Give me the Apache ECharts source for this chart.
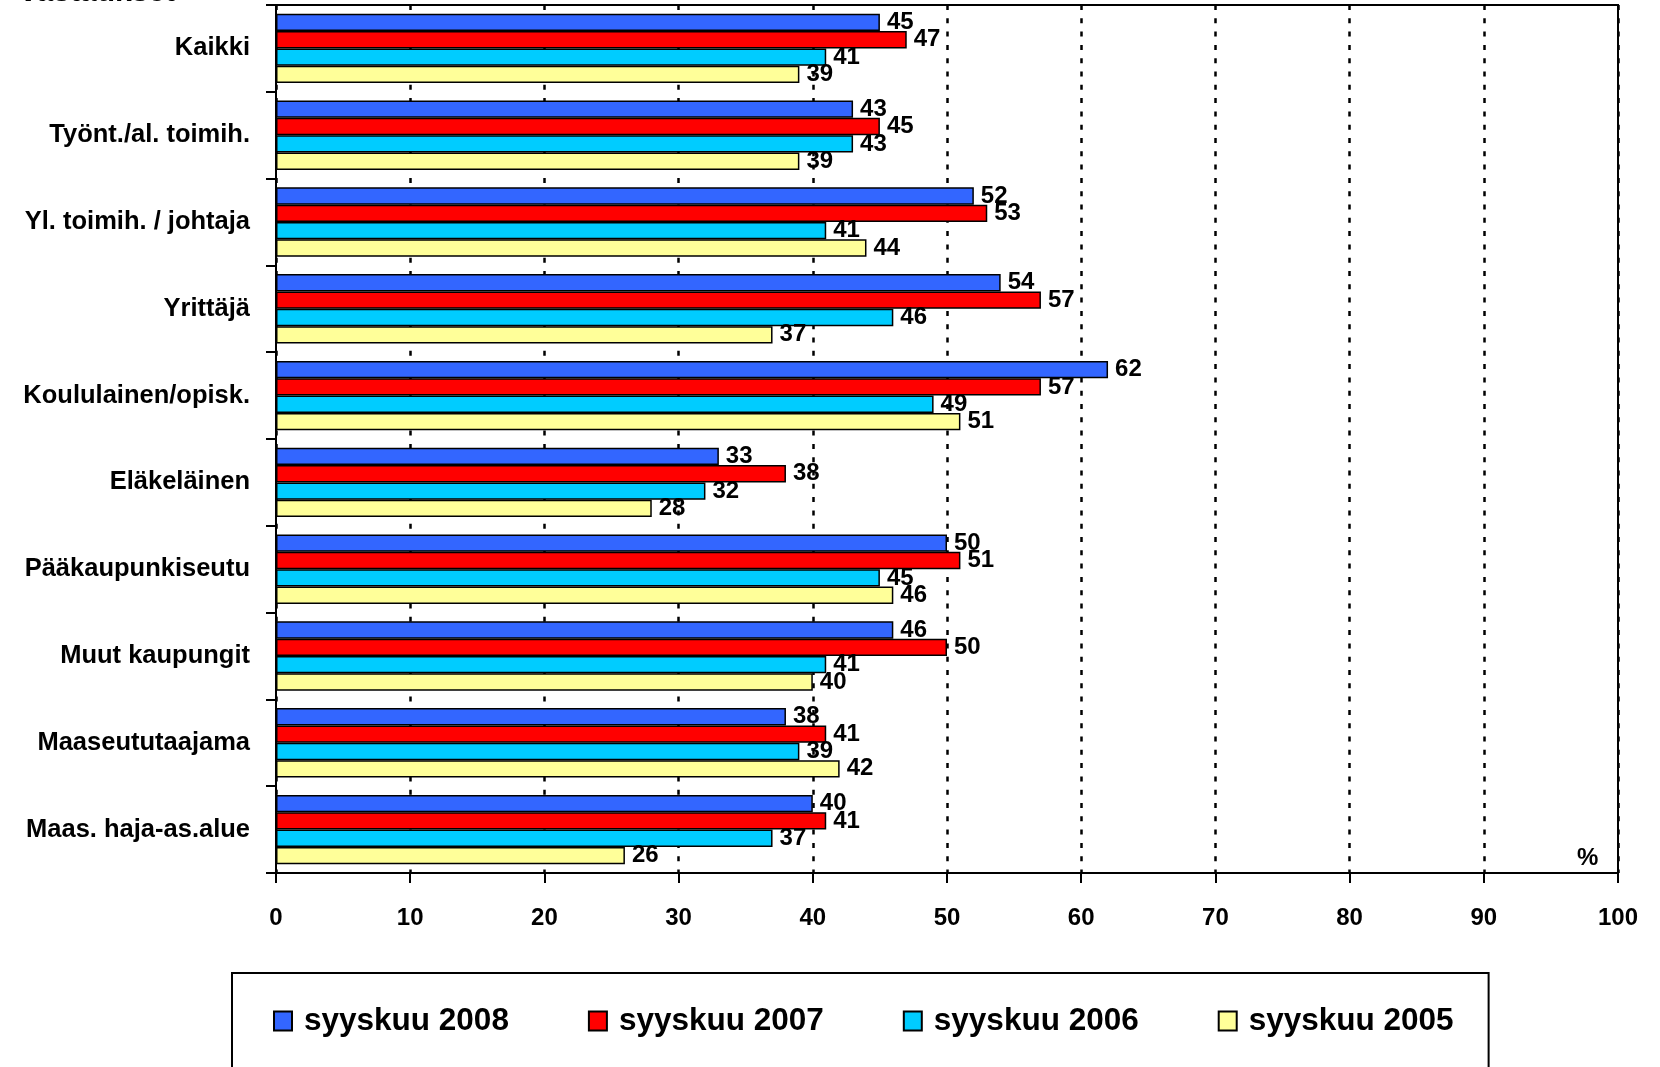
<!DOCTYPE html>
<html>
<head>
<meta charset="utf-8">
<script src="https://cdn.jsdelivr.net/npm/echarts@6/dist/echarts.min.js"></script>
<style>
html,body{margin:0;padding:0;background:#fff;}
#chart{width:1660px;height:1067px;}
</style>
</head>
<body>
<div id="chart"></div>
<script>
const categories = ["Kaikki","Työnt./al. toimih.","Yl. toimih. / johtaja","Yrittäjä","Koululainen/opisk.","Eläkeläinen","Pääkaupunkiseutu","Muut kaupungit","Maaseututaajama","Maas. haja-as.alue"];
const seriesNames = ["syyskuu 2008","syyskuu 2007","syyskuu 2006","syyskuu 2005"];
const values2008 = [45,43,52,54,62,33,50,46,38,40];
const values2007 = [47,45,53,57,57,38,51,50,41,41];
const values2006 = [41,43,41,46,49,32,45,41,39,37];
const values2005 = [39,39,44,37,51,28,46,40,42,26];
const xTicks = {min:0, max:100, interval:10};
const colors = ["#3366FF","#FF0000","#00CCFF","#FFFF99"];

const FONT = 'Arial, "Liberation Sans", sans-serif';
const allValues = [values2008, values2007, values2006, values2005];

const chart = echarts.init(document.getElementById('chart'), null, {renderer:'canvas'});
const series = seriesNames.map((name, i) => ({
  name: name,
  type: 'bar',
  data: allValues[i],
  barGap: '0%',
  barCategoryGap: '20%',
  itemStyle: {color: colors[i], borderColor: '#000', borderWidth: 1.5},
  label: {
    show: true, position: 'right', distance: 7,
    color: '#000', fontFamily: FONT, fontWeight: 'bold', fontSize: 24
  },
  emphasis: {disabled: true}
}));

chart.setOption({
  animation: false,
  backgroundColor: '#fff',
  textStyle: {fontFamily: FONT},
  grid: {left: 276, right: 42, top: 5, bottom: 194, show: true, borderColor: '#000', borderWidth: 2, backgroundColor: 'transparent'},
  xAxis: {
    type: 'value', min: xTicks.min, max: xTicks.max, interval: xTicks.interval,
    axisLine: {show: true, lineStyle: {color: '#000', width: 2}},
    axisTick: {show: true, length: 10, lineStyle: {color: '#000', width: 2}},
    axisLabel: {color: '#000', fontFamily: FONT, fontWeight: 'bold', fontSize: 24, margin: 33},
    splitLine: {show: true, lineStyle: {color: '#000', width: 2.5, type: [5, 8.3]}}
  },
  yAxis: {
    type: 'category', data: categories, inverse: true,
    axisLine: {show: true, lineStyle: {color: '#000', width: 2}},
    axisTick: {show: true, length: 10, lineStyle: {color: '#000', width: 2}},
    axisLabel: {color: '#000', fontFamily: FONT, fontWeight: 'bold', fontSize: 25.5, margin: 26}
  },
  legend: {
    data: seriesNames,
    left: 232, top: 973,
    orient: 'horizontal',
    itemWidth: 18, itemHeight: 19, itemGap: 79,
    icon: 'rect',
    borderColor: '#000', borderWidth: 2,
    padding: [32, 35, 40, 41],
    textStyle: {color: '#000', fontFamily: FONT, fontWeight: 'bold', fontSize: 31.5, padding: [0,0,0,7]},
    selectedMode: false
  },
  graphic: [
    {type: 'text', left: 1577, top: 846, style: {text: '%', fill: '#000', font: 'bold 24px ' + FONT}},
    {type: 'text', x: 175, y: -22, style: {text: 'vastaukset', fill: '#000', font: 'bold 30px ' + FONT, textAlign: 'right', textVerticalAlign: 'top'}}
  ],
  series: series
});
</script>
</body>
</html>
